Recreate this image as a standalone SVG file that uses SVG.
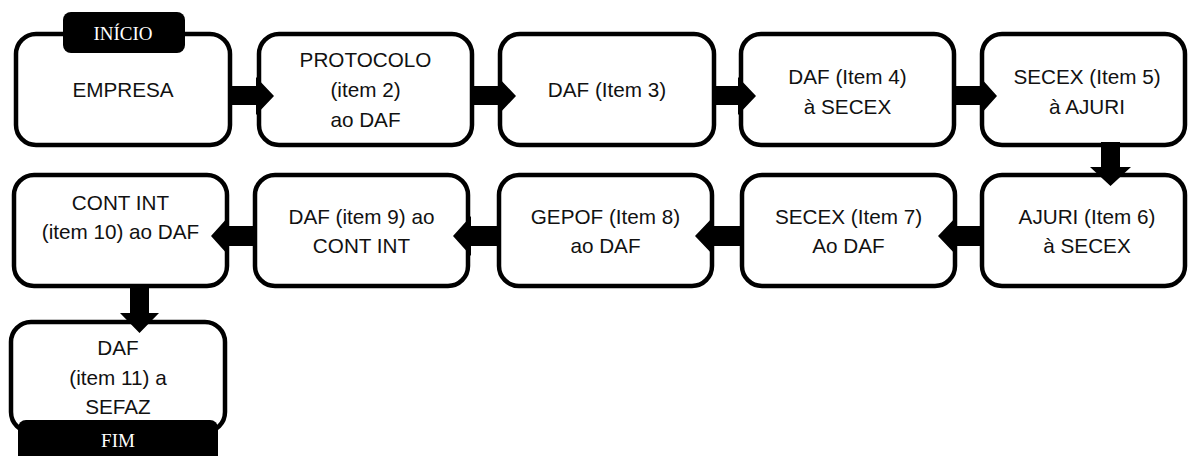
<svg xmlns="http://www.w3.org/2000/svg" width="1188" height="456" viewBox="0 0 1188 456">
  <style>
    .box { fill: #ffffff; stroke: #000000; stroke-width: 4.5; }
    .txt { font-family: "Liberation Sans", Arial, sans-serif; font-size: 20.7px; fill: #111111; text-anchor: middle; }
    .tag { fill: #000000; }
    .tagtxt { font-family: "Liberation Serif", "Times New Roman", serif; font-size: 19px; fill: #ffffff; text-anchor: middle; }
    .arrow { fill: #000000; }
  </style>

  <!-- Row 1 -->
  <g id="n1">
    <rect class="box" x="16" y="34" width="214" height="111" rx="20"/>
    <text class="txt" x="123" y="97">EMPRESA</text>
    <rect class="tag" x="63" y="12" width="122" height="41" rx="8"/>
    <text class="tagtxt" x="123" y="40">INÍCIO</text>
  </g>
  <g id="n2">
    <rect class="box" x="259" y="34" width="213" height="111" rx="20"/>
    <text class="txt" x="365.5" y="67">PROTOCOLO</text>
    <text class="txt" x="365.5" y="97">(item 2)</text>
    <text class="txt" x="365.5" y="127">ao DAF</text>
  </g>
  <g id="n3">
    <rect class="box" x="500" y="34" width="214" height="111" rx="20"/>
    <text class="txt" x="607" y="97">DAF (Item 3)</text>
  </g>
  <g id="n4">
    <rect class="box" x="741" y="34" width="213" height="111" rx="20"/>
    <text class="txt" x="847.5" y="84">DAF (Item 4)</text>
    <text class="txt" x="847.5" y="114">à SECEX</text>
  </g>
  <g id="n5">
    <rect class="box" x="982" y="34" width="203" height="111" rx="20"/>
    <text class="txt" x="1087" y="84">SECEX (Item 5)</text>
    <text class="txt" x="1087" y="114">à AJURI</text>
  </g>

  <!-- Row 2 -->
  <g id="n6">
    <rect class="box" x="982" y="175" width="203" height="111" rx="20"/>
    <text class="txt" x="1087" y="223.5">AJURI (Item 6)</text>
    <text class="txt" x="1087" y="253">à SECEX</text>
  </g>
  <g id="n7">
    <rect class="box" x="742" y="175" width="213" height="111" rx="20"/>
    <text class="txt" x="848.5" y="223.5">SECEX (Item 7)</text>
    <text class="txt" x="848.5" y="253">Ao DAF</text>
  </g>
  <g id="n8">
    <rect class="box" x="499" y="175" width="213" height="111" rx="20"/>
    <text class="txt" x="605.5" y="223.5">GEPOF (Item 8)</text>
    <text class="txt" x="605.5" y="253">ao DAF</text>
  </g>
  <g id="n9">
    <rect class="box" x="255" y="175" width="213" height="111" rx="20"/>
    <text class="txt" x="361.5" y="223.5">DAF (item 9) ao</text>
    <text class="txt" x="361.5" y="253">CONT INT</text>
  </g>
  <g id="n10">
    <rect class="box" x="14" y="175" width="213" height="111" rx="20"/>
    <text class="txt" x="120.5" y="209.5">CONT INT</text>
    <text class="txt" x="120.5" y="239">(item 10) ao DAF</text>
  </g>

  <!-- Row 3 -->
  <g id="n11">
    <rect class="box" x="11" y="322" width="214" height="110" rx="20"/>
    <text class="txt" x="118" y="355">DAF</text>
    <text class="txt" x="118" y="384.5">(item 11) a</text>
    <text class="txt" x="118" y="414">SEFAZ</text>
    <rect class="tag" x="18" y="420" width="200" height="46" rx="8"/>
    <text class="tagtxt" x="118" y="447">FIM</text>
  </g>

  <!-- Block arrows between steps -->
  <g id="connectors">
    <polygon class="arrow" points="228,86 256,86 256,77 274,96 256,115 256,105 228,105"/>
    <polygon class="arrow" points="470,86 498,86 498,77 516,96 498,115 498,105 470,105"/>
    <polygon class="arrow" points="712,86 738,86 738,77 756,96 738,115 738,105 712,105"/>
    <polygon class="arrow" points="952,86 980,86 980,77 997,96 980,115 980,105 952,105"/>
    <polygon class="arrow" points="1101,142 1120,142 1120,167 1131,167 1110.5,186 1090,167 1101,167"/>
    <polygon class="arrow" points="984,226 957,226 957,216 938,236 957,256 957,246 984,246"/>
    <polygon class="arrow" points="744,226 714,226 714,216 695,236 714,256 714,246 744,246"/>
    <polygon class="arrow" points="501,226 471,226 471,216 453,236 471,256 471,246 501,246"/>
    <polygon class="arrow" points="257,226 229,226 229,216 211,236 229,256 229,246 257,246"/>
    <polygon class="arrow" points="130,285 149,285 149,313 159,313 139.5,333 120,313 130,313"/>
  </g>
</svg>
